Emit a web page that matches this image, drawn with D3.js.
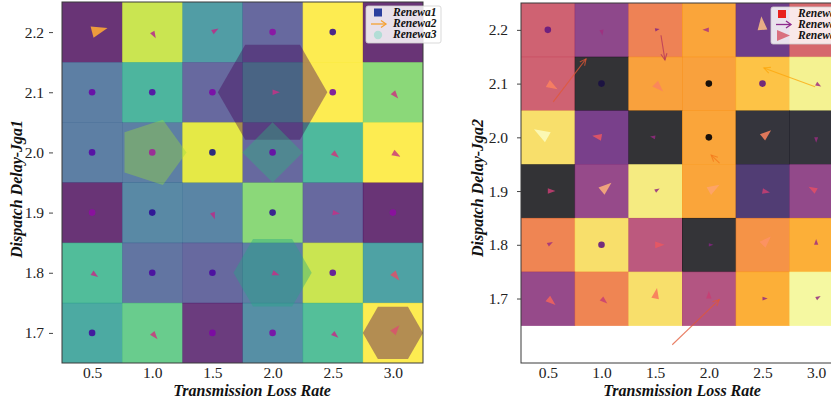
<!DOCTYPE html>
<html>
<head>
<meta charset="utf-8">
<script src="https://cdn.jsdelivr.net/npm/d3@7"></script>
<style>
  html, body { margin: 0; padding: 0; background: #ffffff; }
  svg { display: block; }
</style>
</head>
<body>
<script>
// Grid categories (columns = transmission loss rate, rows = dispatch delay)
const xCats = [0.5, 1.0, 1.5, 2.0, 2.5, 3.0];
const yCats = [2.2, 2.1, 2.0, 1.9, 1.8, 1.7];
const xTickLabels = ["0.5", "1.0", "1.5", "2.0", "2.5", "3.0"];
const yTickLabels = ["2.2", "2.1", "2.0", "1.9", "1.8", "1.7"];

// Heat values, rows from 2.2 down to 1.7
const heatJga1 = [
  [0.00, 0.90, 0.45, 0.20, 1.00, 0.00],
  [0.30, 0.58, 0.20, 0.50, 1.00, 0.78],
  [0.30, 0.30, 0.95, 0.20, 0.60, 1.00],
  [0.00, 0.35, 0.33, 0.78, 0.20, 0.00],
  [0.62, 0.25, 0.20, 0.30, 0.90, 0.48],
  [0.52, 0.70, 0.03, 0.38, 0.63, 1.00]
];
const heatJga2 = [
  [0.52, 0.32, 0.65, 0.75, 0.22, 0.55],
  [0.52, 0.00, 0.74, 0.74, 0.83, 0.95],
  [0.90, 0.25, 0.00, 0.75, 0.02, 0.02],
  [0.00, 0.34, 0.93, 0.75, 0.14, 0.33],
  [0.66, 0.90, 0.46, 0.01, 0.70, 0.78],
  [0.34, 0.66, 0.90, 0.43, 0.78, 0.97]
];

// Renewa1: dots [x, y, value]
const renewa1Jga1 = [
  [2.0, 2.2, 0.30], [2.5, 2.2, 0.05],
  [0.5, 2.1, 0.20], [1.0, 2.1, 0.15], [1.5, 2.1, 0.25], [2.5, 2.1, 0.20],
  [0.5, 2.0, 0.15], [1.0, 2.0, 0.35], [1.5, 2.0, 0.00], [2.0, 2.0, 0.20],
  [0.5, 1.9, 0.30], [1.0, 1.9, 0.05], [2.0, 1.9, 0.05], [3.0, 1.9, 0.30],
  [1.0, 1.8, 0.12], [1.5, 1.8, 0.12], [2.5, 1.8, 0.15],
  [0.5, 1.7, 0.10], [1.5, 1.7, 0.25], [2.0, 1.7, 0.25]
];
// Renewa2: short vectors [x, y, angle (deg), magnitude]
const renewa2Jga1 = [
  [0.5, 2.2, 15, 1.00], [1.0, 2.2, -60, 0.25], [1.5, 2.2, 30, 0.25],
  [2.0, 2.1, 0, 0.28], [3.0, 2.1, -50, 0.35],
  [2.5, 2.0, -40, 0.35], [3.0, 2.0, -30, 0.40],
  [1.5, 1.9, -70, 0.25], [2.5, 1.9, -10, 0.28],
  [0.5, 1.8, -35, 0.28], [2.0, 1.8, -20, 0.28], [3.0, 1.8, -50, 0.50],
  [1.0, 1.7, -50, 0.35], [2.5, 1.7, -40, 0.28], [3.0, 1.7, 50, 0.50]
];
// Renewa3: polygons [x, y, sides, radius (x units), value]
const renewa3Jga1 = [
  [2.0, 2.1, 6, 0.455, 0.00],
  [1.0, 2.0, 5, 0.285, 0.85],
  [2.0, 2.0, 4, 0.250, 0.65],
  [2.0, 1.8, 6, 0.325, 0.60],
  [3.0, 1.7, 6, 0.250, 0.00]
];

// Renewa1 dots for Jga2
const renewa1Jga2 = [
  [0.5, 2.2, 0.30], [1.0, 2.1, 0.12], [2.0, 2.1, 0.00], [2.5, 2.1, 0.30],
  [2.0, 2.0, 0.00], [1.0, 1.8, 0.30]
];
// Renewa2 long arrows [x0, y0, x1, y1, value]
const renewa2Jga2 = [
  [0.55, 2.066, 0.856, 2.146, 0.62],
  [1.554, 2.190, 1.591, 2.144, 0.48],
  [2.99, 2.094, 2.513, 2.129, 0.80],
  [2.10, 1.952, 2.022, 1.967, 0.70],
  [1.659, 1.614, 2.097, 1.698, 0.62]
];
// Renewa3 heads [x, y, angle (deg), magnitude]
const renewa3Jga2 = [
  [1.0, 2.2, -80, 0.15], [1.5, 2.2, 10, 0.05], [2.0, 2.2, 180, 0.20], [2.5, 2.2, 95, 0.80],
  [0.5, 2.1, -30, 0.60], [1.5, 2.1, -45, 0.60], [3.0, 2.1, -30, 0.15],
  [0.5, 2.0, 150, 1.00], [1.0, 2.0, 170, 0.45], [1.5, 2.0, 170, 0.10], [2.5, 2.0, 40, 0.60], [3.0, 2.0, -90, 0.12],
  [0.5, 1.9, 0, 0.30], [1.0, 1.9, 40, 0.75], [1.5, 1.9, 30, 0.10], [2.0, 1.9, 30, 0.70], [2.5, 1.9, -10, 0.30], [3.0, 1.9, 150, 0.40],
  [0.5, 1.8, 30, 0.15], [1.5, 1.8, 0, 0.45], [2.0, 1.8, 0, 0.05], [2.5, 1.8, 45, 0.65], [3.0, 1.8, 90, 0.15],
  [0.5, 1.7, -40, 0.50], [1.0, 1.7, -40, 0.30], [1.5, 1.7, 80, 0.55], [2.0, 1.7, 90, 0.30], [2.5, 1.7, 0, 0.10], [3.0, 1.7, 30, 0.10]
];

const legendNames = ["Renewa1", "Renewa2", "Renewa3"];

const W = 831, H = 406;
const SERIF = '"Liberation Serif", "Times New Roman", Times, serif';
const svg = d3.select("body").append("svg").attr("width", W).attr("height", H);

// Filled arrowhead anchored at its tail
function headPath(px, py, angleDeg, len) {
  const a = angleDeg * Math.PI / 180;
  const dx = Math.cos(a), dy = -Math.sin(a);
  const nx = -dy, ny = dx;
  const w = len * 0.36;
  return `M${px + dx * len},${py + dy * len}L${px + nx * w},${py + ny * w}L${px - nx * w},${py - ny * w}Z`;
}

function drawPanel(opt) {
  const x = d3.scaleLinear().domain([0.25, 3.25]).range(opt.xRange);
  const y = d3.scaleLinear().domain(opt.yDomain).range(opt.yRange);
  const g = svg.append("g");
  const clipId = "clip-" + opt.id;
  g.append("clipPath").attr("id", clipId).append("rect")
    .attr("x", opt.xRange[0]).attr("y", opt.yRange[1])
    .attr("width", opt.xRange[1] - opt.xRange[0]).attr("height", opt.yRange[0] - opt.yRange[1]);
  const plot = g.append("g").attr("clip-path", `url(#${clipId})`);

  // heatmap cells
  const cells = [];
  opt.heat.forEach((row, i) => row.forEach((v, j) => cells.push({ xc: xCats[j], yc: yCats[i], v })));
  plot.selectAll("rect.cell").data(cells).join("rect")
    .attr("class", "cell")
    .attr("x", d => x(d.xc - 0.25))
    .attr("y", d => y(d.yc + 0.05))
    .attr("width", d => x(d.xc + 0.25) - x(d.xc - 0.25) + 0.5)
    .attr("height", d => y(d.yc - 0.05) - y(d.yc + 0.05) + 0.5)
    .attr("fill", d => opt.heatScheme(d.v))
    .attr("fill-opacity", 0.8);

  opt.extra(plot, x, y);

  // frame
  g.append("rect")
    .attr("x", opt.xRange[0]).attr("y", opt.yRange[1])
    .attr("width", opt.xRange[1] - opt.xRange[0]).attr("height", opt.yRange[0] - opt.yRange[1])
    .attr("fill", "none").attr("stroke", "#3a3a3a").attr("stroke-width", 1);

  // axes
  const xAxis = g.append("g").attr("transform", `translate(0,${opt.yRange[0]})`)
    .call(d3.axisBottom(x).tickValues(xCats).tickFormat((d, i) => xTickLabels[i]).tickSize(0).tickPadding(4));
  xAxis.select(".domain").remove();
  xAxis.attr("font-family", SERIF).attr("font-size", 15.5);
  xAxis.selectAll("text").attr("fill", "#222");

  const yAxis = g.append("g").attr("transform", `translate(${opt.xRange[0]},0)`)
    .call(d3.axisLeft(y).tickValues(yCats).tickFormat((d, i) => yTickLabels[i]).tickSize(4).tickPadding(opt.yPad));
  yAxis.select(".domain").remove();
  yAxis.attr("font-family", SERIF).attr("font-size", 15.5);
  yAxis.selectAll("line").attr("stroke", "#444").attr("x1", -opt.tickOffset).attr("x2", -opt.tickOffset - 4);
  yAxis.selectAll("text").attr("fill", "#222");

  // titles
  g.append("text").attr("x", opt.xTitleX).attr("y", 396)
    .attr("text-anchor", "middle").attr("font-family", SERIF)
    .attr("font-weight", "bold").attr("font-style", "italic").attr("font-size", 16).attr("fill", "#111")
    .text("Transmission Loss Rate");
  g.append("text").attr("transform", `translate(${opt.yTitleX},${opt.yTitleY}) rotate(-90)`)
    .attr("text-anchor", "middle").attr("font-family", SERIF)
    .attr("font-weight", "bold").attr("font-style", "italic").attr("font-size", 16).attr("fill", "#111")
    .text(opt.yTitle);

  // legend
  const lg = g.append("g").attr("transform", `translate(${opt.legendX},${opt.legendY})`);
  lg.append("rect").attr("x", 0).attr("y", 0).attr("width", 75).attr("height", 37).attr("rx", 2)
    .attr("fill", "#fff").attr("fill-opacity", 0.85).attr("stroke", "#cfcfcf").attr("stroke-width", 0.8);
  legendNames.forEach((name, i) => {
    lg.append("text").attr("x", 27).attr("y", 9.5 + i * 11.2)
      .attr("font-family", SERIF).attr("font-weight", "bold").attr("font-style", "italic")
      .attr("font-size", 11.5).attr("fill", "#111").text(name);
  });
  opt.legendMarks(lg);
}

// Left panel: viridis field, plasma vectors, translucent polygons
drawPanel({
  id: "jga1",
  xRange: [62, 423], yDomain: [1.65, 2.25], yRange: [363, 2],
  heat: heatJga1, heatScheme: d3.interpolateViridis,
  yPad: 14, tickOffset: 9, xTitleX: 252, yTitleX: 22, yTitleY: 189, yTitle: "Dispatch Delay-Jga1",
  legendX: 366, legendY: 6,
  extra: (plot, x, y) => {
    const ux = x(1) - x(0);
    plot.selectAll("path.shape").data(renewa3Jga1).join("path")
      .attr("d", d => {
        const cx = x(d[0]), cy = y(d[1]), r = d[3] * ux;
        const pts = d3.range(d[2]).map(k => {
          const a = 2 * Math.PI * k / d[2];
          return [cx + r * Math.cos(a), cy - r * Math.sin(a)];
        });
        return "M" + pts.join("L") + "Z";
      })
      .attr("fill", d => d3.interpolateViridis(d[4]))
      .attr("fill-opacity", 0.4);
    plot.selectAll("circle.dot").data(renewa1Jga1).join("circle")
      .attr("cx", d => x(d[0])).attr("cy", d => y(d[1])).attr("r", 3.3)
      .attr("fill", d => d3.interpolatePlasma(d[2])).attr("fill-opacity", 0.85);
    plot.selectAll("path.head").data(renewa2Jga1).join("path")
      .attr("d", d => headPath(x(d[0]), y(d[1]), d[2], 4 + 12 * d[3]))
      .attr("fill", d => d3.interpolatePlasma(0.3 + 0.5 * d[3])).attr("fill-opacity", 0.9);
  },
  legendMarks: lg => {
    lg.append("rect").attr("x", 8).attr("y", 2.5).attr("width", 8).attr("height", 8).attr("fill", "#2b3f9e");
    lg.append("line").attr("x1", 5).attr("y1", 18).attr("x2", 20).attr("y2", 18)
      .attr("stroke", "#f5a132").attr("stroke-width", 1.3);
    lg.append("path").attr("d", "M15,14.5L20,18L15,21.5").attr("fill", "none")
      .attr("stroke", "#f5a132").attr("stroke-width", 1.3);
    lg.append("circle").attr("cx", 12).attr("cy", 29).attr("r", 4.2).attr("fill", "#b2ddd6");
  }
});

// Right panel: inferno field, long arrows, magma heads
drawPanel({
  id: "jga2",
  xRange: [521, 843], yDomain: [1.58, 2.25], yRange: [363, 3],
  heat: heatJga2, heatScheme: d3.interpolateInferno,
  yPad: 9, tickOffset: 0, xTitleX: 682, yTitleX: 483, yTitleY: 188, yTitle: "Dispatch Delay-Jga2",
  legendX: 771, legendY: 7,
  extra: (plot, x, y) => {
    plot.selectAll("circle.dot").data(renewa1Jga2).join("circle")
      .attr("cx", d => x(d[0])).attr("cy", d => y(d[1])).attr("r", 3.3)
      .attr("fill", d => d3.interpolateMagma(d[2])).attr("fill-opacity", 0.9);
    plot.selectAll("path.head").data(renewa3Jga2).join("path")
      .attr("d", d => headPath(x(d[0]), y(d[1]), d[2], 4 + 12 * d[3]))
      .attr("fill", d => d3.interpolateMagma(0.35 + 0.65 * d[3])).attr("fill-opacity", 0.85);
    const ag = plot.selectAll("g.arrow").data(renewa2Jga2).join("g").attr("class", "arrow");
    ag.append("line")
      .attr("x1", d => x(d[0])).attr("y1", d => y(d[1]))
      .attr("x2", d => x(d[2])).attr("y2", d => y(d[3]))
      .attr("stroke", d => d3.interpolateInferno(d[4])).attr("stroke-width", 1.1).attr("stroke-opacity", 0.75);
    ag.append("path")
      .attr("d", d => {
        const x1 = x(d[2]), y1 = y(d[3]);
        const a = Math.atan2(y1 - y(d[1]), x1 - x(d[0]));
        const s = 7, sp = 0.45;
        const p1 = [x1 - s * Math.cos(a - sp), y1 - s * Math.sin(a - sp)];
        const p2 = [x1 - s * Math.cos(a + sp), y1 - s * Math.sin(a + sp)];
        return `M${p1}L${x1},${y1}L${p2}`;
      })
      .attr("fill", "none")
      .attr("stroke", d => d3.interpolateInferno(d[4])).attr("stroke-width", 1.1).attr("stroke-opacity", 0.75);
  },
  legendMarks: lg => {
    lg.append("rect").attr("x", 7).attr("y", 3).attr("width", 8).attr("height", 8).attr("fill", "#e8211d");
    lg.append("line").attr("x1", 5).attr("y1", 17.5).attr("x2", 20).attr("y2", 17.5)
      .attr("stroke", "#8e2a8c").attr("stroke-width", 1.3);
    lg.append("path").attr("d", "M15,14L20,17.5L15,21").attr("fill", "none")
      .attr("stroke", "#8e2a8c").attr("stroke-width", 1.3);
    lg.append("path").attr("d", "M6,23L19,28.5L6,34Z").attr("fill", "#d9707f");
  }
});
</script>
</body>
</html>
